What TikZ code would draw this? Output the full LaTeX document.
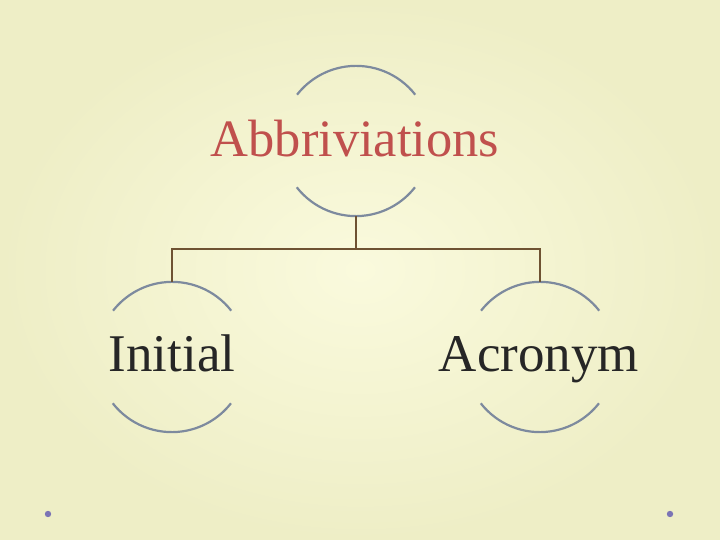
\documentclass[tikz,border=0pt]{standalone}
\usepackage{fontspec}
\setmainfont{Liberation Serif}
\definecolor{bgin}{HTML}{FAFADD}
\definecolor{bgout}{HTML}{EEEEC6}
\definecolor{arcgray}{HTML}{7D8A9E}
\definecolor{linebrown}{HTML}{6E5232}
\definecolor{titlered}{HTML}{C0504D}
\definecolor{dotviolet}{HTML}{7B74B5}
\tikzset{
	ring/.style={circle,minimum size=150pt,inner sep=0pt},
	ringarc/.style={draw=arcgray,line width=2.2pt},
	branch/.style={draw=linebrown,line width=1.4pt},
	word/.style={anchor=base,inner sep=0pt}
}
\begin{document}
\begin{tikzpicture}[x=1pt,y=1pt]
		\shade[inner color=bgin,outer color=bgout] (0,0) rectangle (720,540);
		\useasboundingbox (0,0) rectangle (720,540);
		% circles
		\node[ring] (abbrC) at (356,399) {};
		\node[ring] (initC) at (172,183) {};
		\node[ring] (acroC) at (540,183) {};
		\foreach \c in {abbrC,initC,acroC} {
			\draw[ringarc] (\c.38) arc[start angle=38,end angle=142,radius=75pt];
			\draw[ringarc] (\c.218) arc[start angle=218,end angle=322,radius=75pt];
		}
		% texts
		\node[word,text=titlered,font=\fontsize{52.5}{60}\selectfont] (abbr) at (355,383) {Abbriviations};
		\node[word,text=black!85,font=\fontsize{53}{62}\selectfont] (init) at (172,168) {Initial};
		\node[word,text=black!85,font=\fontsize{53}{62}\selectfont] (acro) at (539,168) {Acronym};
		% tree lines
		\coordinate (fork) at (356,291);
		\draw[branch] (abbrC.south) -- (fork);
		\draw[branch] (fork) -| (initC.north);
		\draw[branch] (fork) -| (acroC.north);
		% corner dots
		\fill[dotviolet] (48,26) circle[radius=3.2pt];
		\fill[dotviolet] (670,26) circle[radius=3.2pt];
\end{tikzpicture}
\end{document}
